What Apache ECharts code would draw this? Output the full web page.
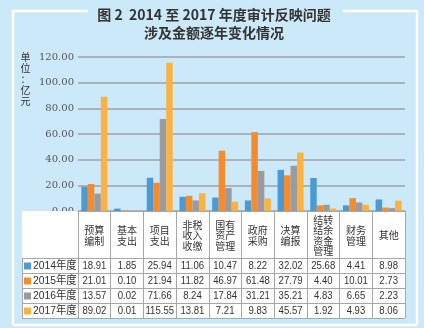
<!DOCTYPE html>
<html><head><meta charset="utf-8">
<script src="https://cdn.jsdelivr.net/npm/echarts@6/dist/echarts.min.js"></script>
<style>html,body{margin:0;padding:0;background:#cce9f9}#c{width:424px;height:328px}</style>
</head><body><div id="c"></div>
<script>
const categories = ['预算编制','基本支出','项目支出','非税收入收缴','国有资产管理','政府采购','决算编报','结转结余资金管理','财务管理','其他'];
const seriesNames = ['2014年度','2015年度','2016年度','2017年度'];
const v2014 = [18.91,1.85,25.94,11.06,10.47,8.22,32.02,25.68,4.41,8.98];
const v2015 = [21.01,0.10,21.94,11.82,46.97,61.48,27.79,4.40,10.01,2.73];
const v2016 = [13.57,0.02,71.66,8.24,17.84,31.21,35.21,4.83,6.65,2.23];
const v2017 = [89.02,0.01,115.55,13.81,7.21,9.83,45.57,1.92,4.93,8.06];
const yMin = 0, yMax = 120, yStep = 20;
const titleText = '图 2  2014 至 2017 年度审计反映问题\n涉及金额逐年变化情况';
const unitText = '单\n位\n：\n亿\n元';
const colors = ['#4a9bd5','#f58b2a','#9a9b9f','#fbb241'];
const allSeries = [v2014, v2015, v2016, v2017];

const BG = '#cce9f9';
const GRID_L = 78, GRID_R = 19, GRID_T = 57, GRID_B = 117;
const HEADER_H = 47, ROW_H = 15, TABLE_L = 22;
const LINE = '#a5a7a9';
const CJK = '"Noto Sans CJK SC"';
const SANS = '"Liberation Sans", ' + CJK;
const SX = 0.83;

function splitLabel(s) {
  const out = [];
  for (let i = 0; i < s.length; i += 2) out.push(s.slice(i, i + 2));
  return out.join('\n');
}

const chart = echarts.init(document.getElementById('c'), null, {renderer: 'canvas'});
chart.setOption({
  backgroundColor: BG,
  animation: false,
  grid: {left: GRID_L, right: GRID_R, top: GRID_T, bottom: GRID_B, containLabel: false},
  xAxis: {
    type: 'category', data: categories, boundaryGap: true, z: 10,
    axisLine: {show: true, lineStyle: {color: LINE, width: 1}},
    axisTick: {show: true, length: HEADER_H + ROW_H * 4, lineStyle: {color: LINE, width: 1}},
    axisLabel: {
      interval: 0, margin: 24.5, verticalAlign: 'middle', align: 'center',
      fontSize: 10, lineHeight: 10.5, color: '#333', fontFamily: CJK,
      formatter: v => splitLabel(v)
    }
  },
  yAxis: {
    type: 'value', min: yMin, max: yMax, interval: yStep,
    axisLine: {show: false}, axisTick: {show: false},
    axisLabel: {formatter: v => v.toFixed(2), fontSize: 10, color: '#555', fontFamily: '"DejaVu Serif"', margin: 4},
    splitLine: {lineStyle: {color: '#a9b3b9', width: 2}}
  },
  series: allSeries.map((d, i) => ({
    type: 'bar', name: seriesNames[i], data: d, barWidth: 6.5, barGap: '0%',
    itemStyle: {color: colors[i]}
  }))
});

const cx = categories.map((c, i) => chart.convertToPixel({xAxisIndex: 0}, i));
const band = cx.length > 1 ? cx[1] - cx[0] : 30;
const gridRight = cx[cx.length - 1] + band / 2;
const y0 = chart.convertToPixel({yAxisIndex: 0}, 0);
const g = [];
// frame
const W = 2.5, FL = 13, FR = 417, FT = 11, FB = 325;
g.push({type: 'line', shape: {x1: FL, y1: FT, x2: FL, y2: FB}, style: {stroke: '#fff', lineWidth: W}, z: 1});
g.push({type: 'line', shape: {x1: FR, y1: FT, x2: FR, y2: FB}, style: {stroke: '#fff', lineWidth: W}, z: 1});
g.push({type: 'line', shape: {x1: FL, y1: FB, x2: FR, y2: FB}, style: {stroke: '#fff', lineWidth: W}, z: 1});
g.push({type: 'line', shape: {x1: FL - 1, y1: FT, x2: 88, y2: FT}, style: {stroke: '#fff', lineWidth: W}, z: 1});
g.push({type: 'line', shape: {x1: 343, y1: FT, x2: FR + 1, y2: FT}, style: {stroke: '#fff', lineWidth: W}, z: 1});
// title
g.push({type: 'text', x: 214, y: 5, style: {text: titleText, fill: '#333', font: 'bold 14px ' + CJK, lineHeight: 18.5, align: 'center', verticalAlign: 'top'}, z: 6});
// table background
const tTop = Math.round(y0);
g.push({type: 'rect', shape: {x: TABLE_L, y: tTop, width: gridRight - TABLE_L, height: HEADER_H + ROW_H * 4}, style: {fill: '#fff'}, z: 1});
for (let r = 0; r <= 4; r++) {
  const yy = tTop + HEADER_H + r * ROW_H + 0.5;
  g.push({type: 'line', shape: {x1: TABLE_L, y1: yy, x2: gridRight, y2: yy}, style: {stroke: LINE, lineWidth: 1}, z: 5});
}
g.push({type: 'line', shape: {x1: TABLE_L + 0.5, y1: tTop + HEADER_H, x2: TABLE_L + 0.5, y2: tTop + HEADER_H + ROW_H * 4}, style: {stroke: LINE, lineWidth: 1}, z: 5});
allSeries.forEach((d, r) => {
  const yc = tTop + HEADER_H + r * ROW_H + ROW_H / 2 + 0.5;
  g.push({type: 'rect', shape: {x: TABLE_L + 2, y: yc - 3.5, width: 7, height: 7}, style: {fill: colors[r]}, z: 6});
  g.push({type: 'text', x: TABLE_L + 11, y: yc, scaleX: 0.9, style: {text: seriesNames[r], fill: '#333', font: '11.5px ' + SANS, verticalAlign: 'middle', align: 'left'}, z: 6});
  d.forEach((v, i) => {
    g.push({type: 'text', x: cx[i], y: yc, scaleX: SX, style: {text: v.toFixed(2), fill: '#333', font: '11.5px ' + SANS, verticalAlign: 'middle', align: 'center'}, z: 6});
  });
});
g.push({type: 'text', x: 25.5, y: 52, style: {text: unitText, fill: '#333', font: '10px ' + CJK, lineHeight: 11, align: 'center', verticalAlign: 'top'}, z: 6});
chart.setOption({graphic: {elements: g}});
</script>
</body></html>
